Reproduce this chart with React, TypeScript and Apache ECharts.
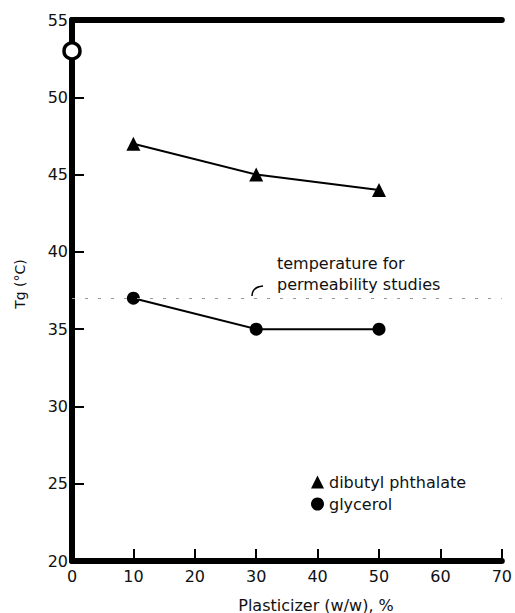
import React, { useEffect, useRef } from "react";
import * as echarts from "echarts";

const plasticizer = [10, 30, 50];
const dibutylPhthalate = [47, 45, 44];
const glycerol = [37, 35, 35];
const noPlasticizer = [[0, 53]];
const permeabilityTemp = 37;
const xTicks = [0, 10, 20, 30, 40, 50, 60, 70];
const yTicks = [20, 25, 30, 35, 40, 45, 50, 55];

const FONT = "DejaVu Sans";

export default function App() {
  const ref = useRef<HTMLDivElement>(null);
  useEffect(() => {
    if (!ref.current) return;
    const chart = echarts.init(ref.current, null, { renderer: "svg" });
    const option: any = {
      animation: false,
      backgroundColor: "#fff",
      textStyle: { fontFamily: FONT, color: "#111" },
      grid: { left: 72, right: 12, top: 20, bottom: 52 },
      legend: {
        orient: "vertical",
        left: 306,
        top: 469,
        itemWidth: 13,
        itemHeight: 13,
        itemGap: 6,
        textStyle: { fontFamily: FONT, fontSize: 16, color: "#111" },
        data: [
          { name: "dibutyl phthalate", icon: "triangle" },
          { name: "glycerol", icon: "circle" },
        ],
      },
      xAxis: [
        {
          type: "value",
          min: xTicks[0],
          max: xTicks[xTicks.length - 1],
          interval: 10,
          axisLine: { show: true, lineStyle: { color: "#000", width: 6 } },
          axisTick: { show: true, inside: true, length: 12, lineStyle: { color: "#000", width: 2 } },
          axisLabel: { fontSize: 16, color: "#111", margin: 7, fontFamily: FONT },
          splitLine: { show: false },
        },
        {
          type: "value",
          position: "top",
          min: 0,
          max: 70,
          axisLine: { show: true, lineStyle: { color: "#000", width: 6 } },
          axisTick: { show: false },
          axisLabel: { show: false },
          splitLine: { show: false },
        },
      ],
      yAxis: [
        {
          type: "value",
          min: yTicks[0],
          max: yTicks[yTicks.length - 1],
          interval: 5,
          axisLine: { show: true, lineStyle: { color: "#000", width: 4 } },
          axisTick: { show: true, inside: true, length: 12, lineStyle: { color: "#000", width: 2 } },
          axisLabel: { fontSize: 16, color: "#111", margin: 4, fontFamily: FONT },
          splitLine: { show: false },
        },
        {
          type: "value",
          position: "right",
          min: 20,
          max: 55,
          axisLine: { show: true, lineStyle: { color: "#000", width: 6 } },
          axisTick: { show: false },
          axisLabel: { show: false },
          splitLine: { show: false },
        },
      ],
      series: [
        {
          name: "dibutyl phthalate",
          type: "line",
          data: plasticizer.map((x, i) => [x, dibutylPhthalate[i]]),
          symbol: "triangle",
          symbolSize: 14,
          itemStyle: { color: "#000" },
          lineStyle: { color: "#000", width: 2 },
          markLine: {
            silent: true,
            symbol: ["none", "none"],
            label: { show: false },
            lineStyle: { color: "#999", width: 1, type: [3, 10] },
            data: [{ yAxis: permeabilityTemp }],
          },
        },
        {
          name: "glycerol",
          type: "line",
          data: plasticizer.map((x, i) => [x, glycerol[i]]),
          symbol: "circle",
          symbolSize: 13,
          itemStyle: { color: "#000" },
          lineStyle: { color: "#000", width: 2 },
        },
        {
          name: "no plasticizer",
          type: "scatter",
          data: noPlasticizer,
          symbol: "circle",
          symbolSize: 16,
          itemStyle: { color: "#fff", borderColor: "#000", borderWidth: 3.5, opacity: 1 },
          z: 10,
        },
      ],
      graphic: [
        {
          type: "text",
          left: 277,
          top: 255,
          style: { text: "temperature for", font: `16px "${FONT}"`, fill: "#111" },
        },
        {
          type: "text",
          left: 277,
          top: 276,
          style: { text: "permeability studies", font: `16px "${FONT}"`, fill: "#111" },
        },
        {
          type: "bezierCurve",
          shape: { x1: 252, y1: 296, x2: 263, y2: 286, cpx1: 252, cpy1: 287 },
          style: { stroke: "#000", lineWidth: 1.5, fill: "none" },
        },
        {
          type: "text",
          x: 20,
          y: 284,
          rotation: Math.PI / 2,
          style: {
            text: "Tg (°C)",
            font: `14px "${FONT}"`,
            fill: "#111",
            textAlign: "center",
            textVerticalAlign: "middle",
          },
        },
        {
          type: "text",
          x: 316,
          y: 605,
          style: {
            text: "Plasticizer (w/w), %",
            font: `16px "${FONT}"`,
            fill: "#111",
            textAlign: "center",
            textVerticalAlign: "middle",
          },
        },
      ],
    };
    chart.setOption(option);
    return () => chart.dispose();
  }, []);
  return (
    <div
      ref={ref}
      style={{ position: "fixed", left: 0, top: 0, width: 515, height: 613 }}
    />
  );
}
